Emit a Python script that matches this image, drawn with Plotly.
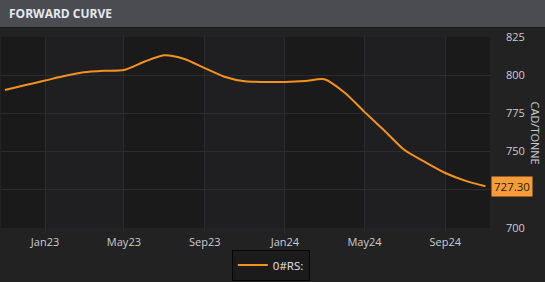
import plotly.graph_objects as go
import pandas as pd

# ---- data ----
months = pd.date_range("2022-11-01", "2024-11-01", freq="MS")
prices = [790.3, 793.4, 796.5, 799.6, 801.9, 802.9, 803.4, 808.8, 813.0, 810.6,
          804.6, 799.0, 796.0, 795.6, 795.6, 796.2, 797.3, 788.5, 776.0, 763.5,
          751.0, 743.2, 736.0, 731.0, 727.3]
series_name = "0#RS:"
x_ticks = ["2023-01-01", "2023-05-01", "2023-09-01", "2024-01-01", "2024-05-01", "2024-09-01"]
y_ticks = [700, 725, 750, 775, 800, 825]
# 725 is covered by the last-value badge in the reference
y_ticktext = ["700", "", "750", "775", "800", "825"]
title_text = "FORWARD CURVE"
y_title = "CAD/TONNE"
last_label = f"{prices[-1]:.2f}"

# ---- style ----
LINE = "#f5921e"
OUTER = "#222222"
BAND_DARK = "#1a1a1a"
BAND_LIGHT = "#1f1f21"
GRID = "#2c2c2c"
TXT = "#c9cdd2"

x_range = ["2022-10-26", "2024-11-08"]
y_range = [700, 825]

fig = go.Figure()
fig.add_trace(go.Scatter(
    x=months, y=prices, mode="lines", name=series_name,
    line=dict(color=LINE, width=2, shape="spline", smoothing=0.7),
    hoverinfo="skip",
))

shapes = []
# alternating vertical bands between x ticks
edges = [x_range[0]] + x_ticks + [x_range[1]]
for i in range(len(edges) - 1):
    shapes.append(dict(type="rect", xref="x", yref="paper", x0=edges[i], x1=edges[i + 1],
                       y0=0, y1=1, fillcolor=BAND_DARK if i % 2 == 0 else BAND_LIGHT,
                       line=dict(width=0), layer="below"))
# header bar (paper coords computed from plot size: 489 x 191)
pw, ph = 489.0, 191.0
shapes.append(dict(type="rect", xref="paper", yref="paper",
                   x0=-1 / pw, x1=544 / pw, y0=1 + 10 / ph, y1=1 + 37 / ph,
                   fillcolor="#4b4c51", line=dict(width=0), layer="above"))
shapes.append(dict(type="line", xref="paper", yref="paper",
                   x0=-1 / pw, x1=544 / pw, y0=1 + 9.5 / ph, y1=1 + 9.5 / ph,
                   line=dict(color="#161616", width=1)))

annotations = [
    dict(text=f"<b>{title_text}</b>", xref="paper", yref="paper",
         x=6 / pw, y=1 + 23.5 / ph, xanchor="left", yanchor="middle", showarrow=False,
         font=dict(family="Open Sans", size=12, color="#e3eaf1")),
    dict(text=y_title, xref="paper", yref="paper", x=534 / pw, y=0.5,
         xanchor="center", yanchor="middle", textangle=90, showarrow=False,
         font=dict(family="Open Sans", size=11, color=TXT)),
    dict(text=last_label, xref="paper", yref="y", x=1, y=prices[-1],
         xanchor="left", yanchor="middle", showarrow=False, bgcolor="#f89c38",
         borderpad=2, xshift=1,
         font=dict(family="Open Sans", size=11.5, color="#2a1c0a")),
]

fig.update_layout(
    width=545, height=282,
    margin=dict(l=1, r=55, t=37, b=54),
    paper_bgcolor=OUTER, plot_bgcolor=BAND_DARK,
    shapes=shapes, annotations=annotations,
    showlegend=True,
    legend=dict(orientation="h", xref="container", yref="container",
                x=0.497, y=0.06, xanchor="center", yanchor="middle",
                bgcolor="#1b1b1b", bordercolor="#050505", borderwidth=1,
                font=dict(family="Open Sans", size=11.5, color="#e8e8e8"),
                itemwidth=30),
    xaxis=dict(type="date", range=x_range, tickvals=x_ticks, tickformat="%b%y",
               showgrid=True, gridcolor=GRID, gridwidth=1, zeroline=False,
               ticks="outside", ticklen=4, tickcolor=GRID, showline=False,
               tickfont=dict(family="Open Sans", size=11, color=TXT), fixedrange=True),
    yaxis=dict(range=y_range, tickvals=y_ticks, ticktext=y_ticktext, side="right",
               showgrid=True, gridcolor=GRID, gridwidth=1, zeroline=False, showline=False,
               ticks="", ticklabelstandoff=15,
               tickfont=dict(family="Open Sans", size=11, color=TXT), fixedrange=True),
)

fig.write_html("out.html")
